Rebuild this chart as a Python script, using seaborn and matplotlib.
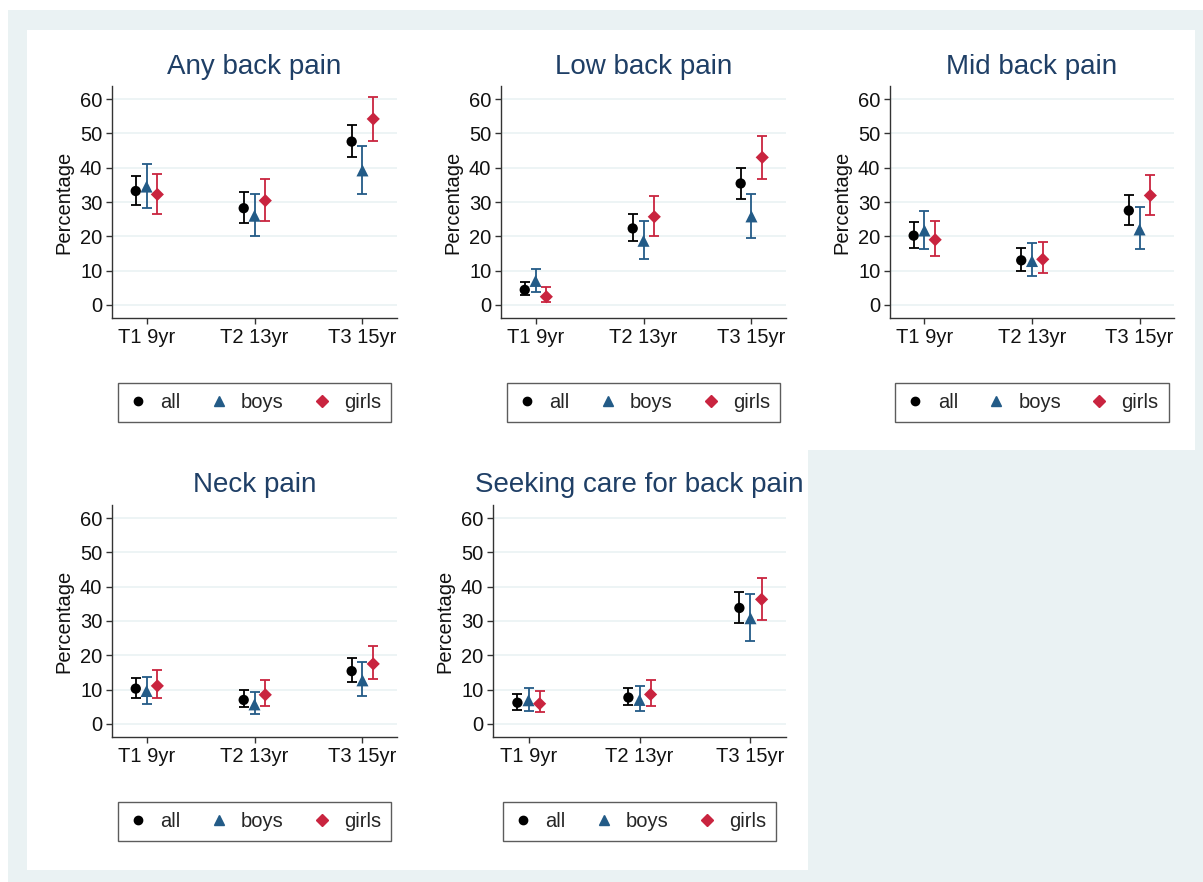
import numpy as np
import pandas as pd
import seaborn as sns
import matplotlib.pyplot as plt
from matplotlib.patches import Rectangle
from matplotlib.lines import Line2D

times = ["T1 9yr", "T2 13yr", "T3 15yr"]
groups = ["all", "boys", "girls"]
titles = ["Any back pain", "Low back pain", "Mid back pain", "Neck pain",
          "Seeking care for back pain"]

# rows = all, boys, girls ; columns = T1, T2, T3
any_mean = [[33.2, 28.2, 47.6], [34.5, 26.0, 39.2], [32.2, 30.4, 54.2]]
any_lo = [[29.0, 24.0, 43.0], [28.2, 20.0, 32.2], [26.4, 24.5, 47.8]]
any_hi = [[37.5, 32.8, 52.4], [41.0, 32.3, 46.3], [38.3, 36.7, 60.5]]

low_mean = [[4.4, 22.3, 35.4], [7.0, 18.7, 25.8], [2.4, 25.7, 43.0]]
low_lo = [[2.8, 18.5, 31.0], [3.7, 13.4, 19.5], [1.0, 20.2, 36.8]]
low_hi = [[6.6, 26.5, 40.0], [10.6, 24.5, 32.3], [5.1, 31.7, 49.3]]

mid_mean = [[20.2, 13.0, 27.5], [21.7, 12.8, 22.0], [19.0, 13.3, 31.9]]
mid_lo = [[16.7, 10.0, 23.4], [16.3, 8.5, 16.2], [14.4, 9.2, 26.2]]
mid_hi = [[24.2, 16.5, 32.0], [27.5, 18.0, 28.5], [24.5, 18.2, 38.0]]

neck_mean = [[10.3, 7.0, 15.4], [9.6, 5.7, 12.7], [11.1, 8.5, 17.5]]
neck_lo = [[7.7, 4.8, 12.2], [5.9, 2.8, 8.2], [7.5, 5.3, 13.0]]
neck_hi = [[13.3, 9.9, 19.1], [13.8, 9.4, 18.0], [15.6, 12.9, 22.8]]

care_mean = [[6.2, 7.7, 33.8], [6.9, 7.0, 30.8], [5.9, 8.6, 36.3]]
care_lo = [[4.2, 5.4, 29.5], [3.7, 3.9, 24.2], [3.4, 5.3, 30.3]]
care_hi = [[8.8, 10.6, 38.5], [10.6, 11.2, 37.8], [9.6, 12.9, 42.5]]

panel_data = [(any_mean, any_lo, any_hi), (low_mean, low_lo, low_hi),
              (mid_mean, mid_lo, mid_hi), (neck_mean, neck_lo, neck_hi),
              (care_mean, care_lo, care_hi)]

colors = {"all": "black", "boys": "#235b87", "girls": "#c9243f"}
markers = {"all": "o", "boys": "^", "girls": "D"}
msize = {"all": 55, "boys": 75, "girls": 45}
offsets = {"all": -0.1, "boys": 0.0, "girls": 0.1}

W, H = 1203, 882
sns.set_theme(style="white")
plt.rcParams["font.family"] = ["Liberation Sans", "DejaVu Sans"]

fig = plt.figure(figsize=(W / 100, H / 100), dpi=100, facecolor="white")


def px(l, t, r, b):
    return [l / W, 1 - b / H, (r - l) / W, (b - t) / H]


# stata-like background regions
bg = "#eaf2f3"
fig.patches.append(Rectangle((8 / W, 0), 1, 1 - 10 / H, transform=fig.transFigure,
                             facecolor=bg, edgecolor="none", zorder=-3))
fig.patches.append(Rectangle((27 / W, 1 - 450 / H), (1195 - 27) / W, 420 / H,
                             transform=fig.transFigure, facecolor="white",
                             edgecolor="none", zorder=-2))
fig.patches.append(Rectangle((27 / W, 1 - 870 / H), (808 - 27) / W, 420 / H,
                             transform=fig.transFigure, facecolor="white",
                             edgecolor="none", zorder=-2))

boxes = [(112, 86, 397, 318), (501, 86, 786, 318), (890, 86, 1174, 318),
         (112, 505, 397, 737), (493, 505, 786, 737)]

for title, (mean, lo, hi), box in zip(titles, panel_data, boxes):
    ax = fig.add_axes(px(*box))
    ax.set_facecolor("white")
    rows = []
    for gi, g in enumerate(groups):
        for ti, t in enumerate(times):
            rows.append({"x": ti + 1 + offsets[g], "group": g, "mean": mean[gi][ti],
                         "lo": lo[gi][ti], "hi": hi[gi][ti]})
    df = pd.DataFrame(rows)

    for g in groups:
        d = df[df.group == g]
        ax.errorbar(d.x, d["mean"], yerr=[d["mean"] - d.lo, d.hi - d["mean"]],
                    fmt="none", ecolor=colors[g], elinewidth=1.3, capsize=3.6,
                    capthick=1.3, zorder=2)
        sns.scatterplot(data=d, x="x", y="mean", color=colors[g], marker=markers[g],
                        s=msize[g], edgecolor="none", ax=ax, zorder=3, legend=False)

    ax.set_xlim(0.68, 3.32)
    ax.set_ylim(-3.8, 63.8)
    ax.set_xticks([1, 2, 3])
    ax.set_xticklabels(times)
    ax.set_yticks(np.arange(0, 61, 10))
    ax.set_xlabel("")
    ax.set_ylabel("Percentage", fontsize=14.5, color="#111111", labelpad=5)
    ax.grid(axis="y", color=bg, linewidth=1.2)
    ax.set_axisbelow(True)
    for s in ["top", "right"]:
        ax.spines[s].set_visible(False)
    for s in ["left", "bottom"]:
        ax.spines[s].set_color("#333333")
        ax.spines[s].set_linewidth(1.0)
    ax.tick_params(axis="both", which="both", direction="out", length=4, width=1,
                   color="#333333", labelsize=14.5, labelcolor="#111111", pad=3,
                   left=True, bottom=True)
    ax.set_title(title, fontsize=20, color="#1f3f66", pad=9)

    handles = [Line2D([], [], linestyle="none", marker=markers[g], color=colors[g],
                      markersize={"all": 6, "boys": 7, "girls": 6}[g]) for g in groups]
    leg = ax.legend(handles, groups, loc="center", bbox_to_anchor=(0.5, -0.366),
                    ncol=3, fontsize=14.5, frameon=True, fancybox=False,
                    handlelength=1.0, handletextpad=0.6, columnspacing=1.4,
                    borderpad=0.5, borderaxespad=0)
    leg.get_frame().set_edgecolor("#333333")
    leg.get_frame().set_linewidth(1.0)

fig.savefig("out.png", dpi=100, facecolor="white")
